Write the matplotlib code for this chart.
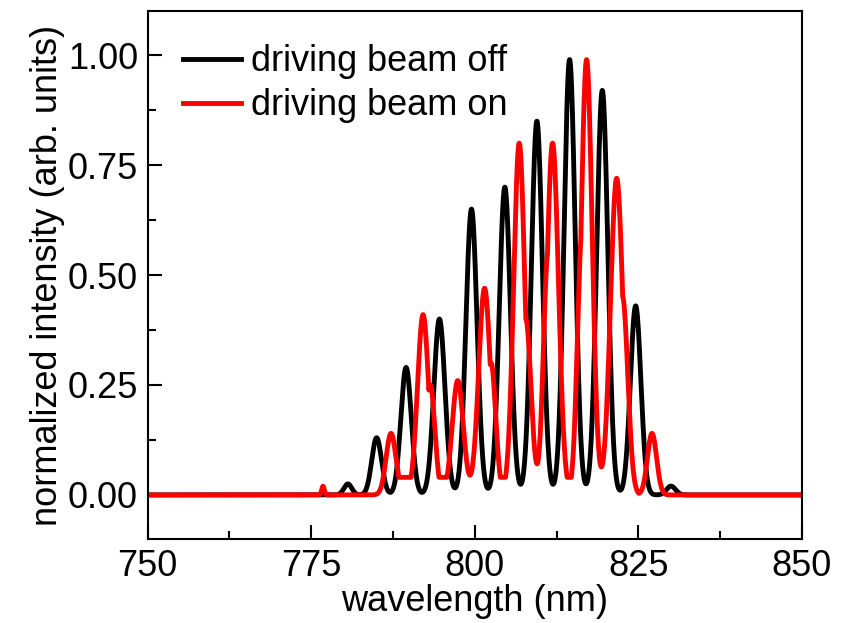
import numpy as np
import matplotlib.pyplot as plt
from matplotlib.ticker import MultipleLocator, FormatStrFormatter

plt.rcParams['font.family'] = ['Liberation Sans', 'DejaVu Sans']

# fringe peaks: centre (nm), height, width (nm)
off_centers = [780.6, 785.0, 789.5, 794.6, 799.5, 804.6, 809.5, 814.5, 819.5, 824.6, 830.0]
off_heights = [0.025, 0.13, 0.29, 0.40, 0.65, 0.70, 0.85, 0.99, 0.92, 0.43, 0.02]
off_widths = [0.6, 0.75, 0.8, 0.85, 0.85, 0.85, 0.85, 0.85, 0.85, 0.8, 0.7]

on_centers = [776.8, 787.2, 792.1, 797.4, 801.5, 806.8, 811.9, 817.1, 821.7, 827.1]
on_heights = [0.02, 0.14, 0.41, 0.26, 0.47, 0.80, 0.80, 0.99, 0.72, 0.14]
on_widths = [0.2, 0.75, 0.85, 0.85, 0.9, 0.85, 0.9, 0.85, 0.95, 0.7]

# small shoulders on the red fringes
on_sh_centers = [793.2, 802.5, 807.8, 811.2, 816.4, 822.6]
on_sh_heights = [0.25, 0.30, 0.40, 0.55, 0.60, 0.45]
on_sh_widths = [0.7, 0.7, 0.8, 0.7, 0.7, 0.8]
on_floor = 0.04

wavelength = np.linspace(750, 850, 4000)


def spectrum(centers, heights, widths):
    y = np.zeros_like(wavelength)
    for c, h, w in zip(centers, heights, widths):
        y += h * np.exp(-0.5 * ((wavelength - c) / w) ** 2)
    return y


off = spectrum(off_centers, off_heights, off_widths)
on = spectrum(on_centers, on_heights, on_widths)
on = np.maximum(on, spectrum(on_sh_centers, on_sh_heights, on_sh_widths))
band = (wavelength > 788) & (wavelength < 824)
on = np.where(band, np.maximum(on, on_floor), on)

fig = plt.figure(figsize=(8.44, 6.23), dpi=100)
ax = fig.add_axes([0.175, 0.135, 0.775, 0.847])

ax.plot(wavelength, off, color='black', lw=3.5, label='driving beam off')
ax.plot(wavelength, on, color='red', lw=3.5, label='driving beam on')

ax.set_xlim(750, 850)
ax.set_ylim(-0.1, 1.1)
ax.xaxis.set_major_locator(MultipleLocator(25))
ax.xaxis.set_minor_locator(MultipleLocator(12.5))
ax.yaxis.set_major_locator(MultipleLocator(0.25))
ax.yaxis.set_minor_locator(MultipleLocator(0.125))
ax.yaxis.set_major_formatter(FormatStrFormatter('%.2f'))
ax.tick_params(which='both', direction='in', top=False, right=False, labelsize=26, width=1.5)
ax.tick_params(which='major', length=10, pad=7)
ax.tick_params(which='minor', length=6)
for s in ax.spines.values():
    s.set_linewidth(1.5)

ax.set_xlabel('wavelength (nm)', fontsize=26, labelpad=0)
ax.set_ylabel('normalized intensity (arb. units)', fontsize=26, labelpad=2)

ax.legend(loc='upper left', bbox_to_anchor=(0.015, 0.985), frameon=False, fontsize=26,
          handlelength=1.6, handletextpad=0.3, labelspacing=0.25, borderaxespad=0.3)

fig.savefig('out.png', dpi=100)
